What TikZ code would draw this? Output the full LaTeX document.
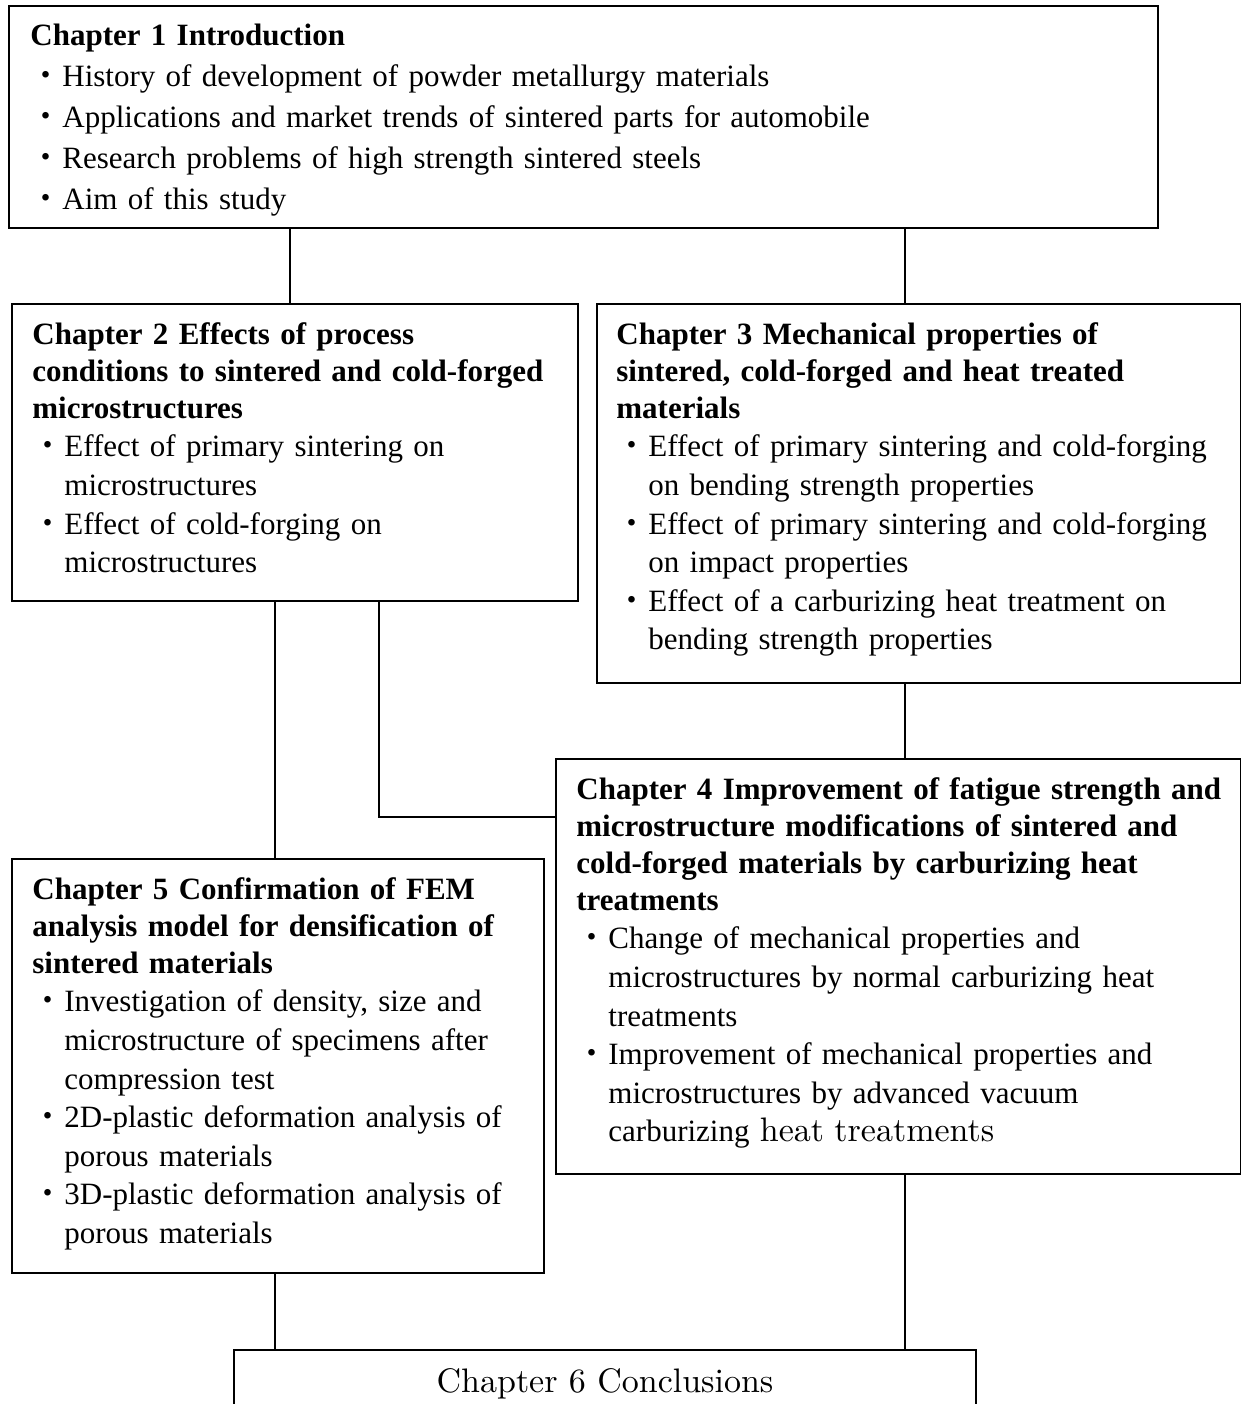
\documentclass[tikz,border=0pt]{standalone}
\usepackage{fontspec}
\setmainfont{Liberation Serif}
\newfontfamily\cjkfont{Noto Sans CJK JP}
\newfontfamily\lmfont{lmroman10-regular.otf}

\newcommand{\px}{0.5pt}
\newcommand{\ttl}[1]{{\fontsize{15.5}{18.5}\selectfont\bfseries #1\par}}
\newcommand{\itm}[1]{\noindent\hangindent=16pt\hangafter=1\makebox[16pt][c]{\cjkfont ・}#1\par}

\begin{document}
\begin{tikzpicture}[x=\px, y=-\px,
  box/.style={draw, line width=1pt, inner sep=0pt, anchor=north west},
  txt/.style={anchor=north west, inner sep=0pt, text width=#1*\px, font=\fontsize{15.5}{19.3}\selectfont},
  link/.style={line width=1pt}]
\useasboundingbox (0,0) rectangle (1241,1404);

\node[box, minimum width=1149*\px, minimum height=222*\px] (ch1) at (8,5) {};
\node[box, minimum width=566*\px, minimum height=297*\px] (ch2) at (11,303) {};
\node[box, minimum width=644*\px, minimum height=379*\px] (ch3) at (596,303) {};
\node[box, minimum width=685*\px, minimum height=415*\px] (ch4) at (555,758) {};
\node[box, minimum width=532*\px, minimum height=414*\px] (ch5) at (11,858) {};
\node[box, minimum width=742*\px, minimum height=150*\px] (ch6) at (233,1349) {};

\node[txt=1110, font=\fontsize{15.5}{20.5}\selectfont] (t1) at (30,24) {\ttl{Chapter 1 Introduction}
  \itm{History of development of powder metallurgy materials}
  \itm{Applications and market trends of sintered parts for automobile}
  \itm{Research problems of high strength sintered steels}
  \itm{Aim of this study}};
\node[txt=560] (t2) at (32,322) {\ttl{Chapter 2 Effects of process\newline conditions to sintered and cold-forged\newline microstructures}
  \itm{Effect of primary sintering on\newline microstructures}
  \itm{Effect of cold-forging on\newline microstructures}};
\node[txt=640] (t3) at (616,322) {\ttl{Chapter 3 Mechanical properties of\newline sintered, cold-forged and heat treated\newline materials}
  \itm{Effect of primary sintering and cold-forging\newline on bending strength properties}
  \itm{Effect of primary sintering and cold-forging\newline on impact properties}
  \itm{Effect of a carburizing heat treatment on\newline bending strength properties}};
\node[txt=680] (t4) at (576,777) {\ttl{Chapter 4 Improvement of fatigue strength and\newline microstructure modifications of sintered and\newline cold-forged materials by carburizing heat\newline treatments}
  \itm{Change of mechanical properties and\newline microstructures by normal carburizing heat\newline treatments}
  \itm{Improvement of mechanical properties and\newline microstructures by advanced vacuum\newline carburizing {\lmfont\fontsize{17}{19.3}\selectfont heat treatments}}};
\node[txt=520] (t5) at (32,877) {\ttl{Chapter 5 Confirmation of FEM\newline analysis model for densification of\newline sintered materials}
  \itm{Investigation of density, size and\newline microstructure of specimens after\newline compression test}
  \itm{2D-plastic deformation analysis of\newline porous materials}
  \itm{3D-plastic deformation analysis of\newline porous materials}};
\node[anchor=base, inner sep=0pt, font=\lmfont\fontsize{17}{20}\selectfont] (t6) at (605,1392) {Chapter 6 Conclusions};

\coordinate (xa) at (290,0);
\coordinate (xb) at (905,0);
\coordinate (xc) at (275,0);
\coordinate (xd) at (379,817);
\draw[link] (ch1.south -| xa) -- (ch2.north -| xa);
\draw[link] (ch1.south -| xb) -- (ch3.north -| xb);
\draw[link] (ch3.south -| xb) -- (ch4.north -| xb);
\draw[link] (ch2.south -| xc) -- (ch5.north -| xc);
\draw[link] (ch2.south -| xd) |- (ch4.west |- xd);
\draw[link] (ch5.south -| xc) -- (ch6.north -| xc);
\draw[link] (ch4.south -| xb) -- (ch6.north -| xb);
\end{tikzpicture}
\end{document}
